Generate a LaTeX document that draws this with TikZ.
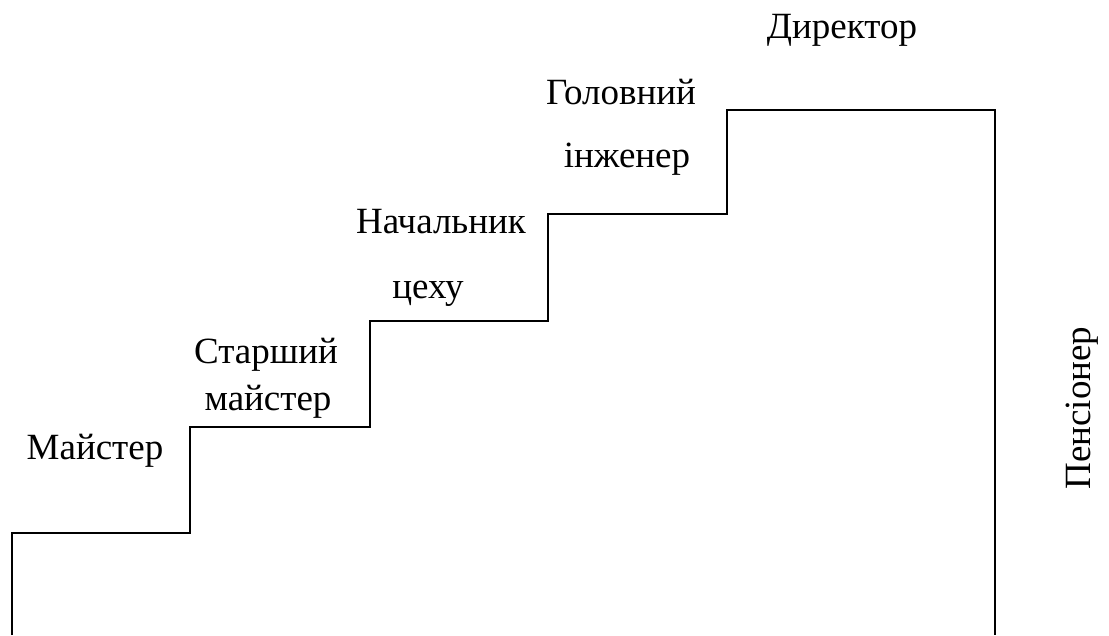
\documentclass[tikz,border=0pt]{standalone}
\usepackage{fontspec}
\setmainfont{LiberationSerif}[Extension=.ttf,UprightFont=*-Regular]
\begin{document}
\begin{tikzpicture}[x=1pt,y=-1pt,
  stair/.style={line width=1.6pt,line join=miter},
  rank/.style={anchor=base,inner sep=0pt,font=\rmfamily\fontsize{37}{40}\selectfont}]
\useasboundingbox (0,0) rectangle (1109,635);
% career staircase
\draw[stair] (12,635) -- (12,533) -- (190,533) -- (190,427) -- (370,427)
  -- (370,321) -- (548,321) -- (548,214) -- (727,214) -- (727,110)
  -- (995,110) -- (995,635);
% ranks on the steps
\node[rank] (m1) at (95,459) {Майстер};
\node[rank] (m2a) at (266,363) {Старший};
\node[rank] (m2b) at (268,410) {майстер};
\node[rank] (m3a) at (441,233) {Начальник};
\node[rank] (m3b) at (428,298) {цеху};
\node[rank] (m4a) at (621,104) {Головний};
\node[rank] (m4b) at (627,167) {інженер};
\node[rank] (m5) at (842,38) {Директор};
\node[rank,rotate=90] (m6) at (1090,408) {Пенсіонер};
\end{tikzpicture}
\end{document}
